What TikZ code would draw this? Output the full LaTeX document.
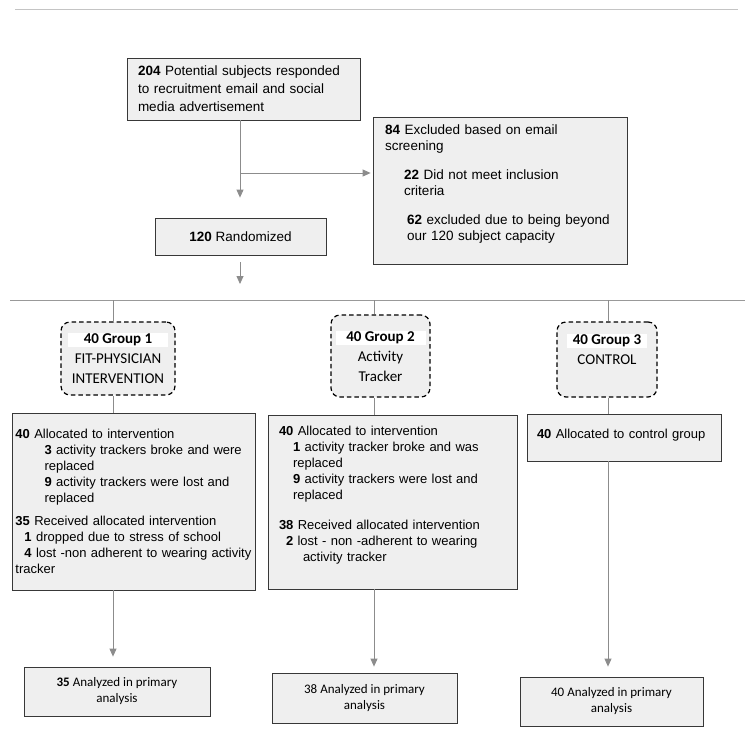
\documentclass[tikz,border=0pt]{standalone}
\usepackage{fontspec}
\setmainfont{Liberation Sans}
\newfontfamily\narrowfont{Carlito}
\usetikzlibrary{arrows.meta}
\definecolor{boxfill}{HTML}{EFEFEF}
\definecolor{boxline}{HTML}{383838}
\definecolor{linkgray}{HTML}{8C8C8C}
\definecolor{rulegray}{HTML}{C4C4C4}
\setlength{\fboxsep}{1pt}
\tikzset{>={Triangle[width=7pt,length=8pt]},auto}
\tikzset{
  box/.style={draw=boxline,fill=boxfill,line width=0.8pt,inner ysep=0pt},
  big/.style={font=\fontsize{13.5}{16}\selectfont},
  mid/.style={font=\fontsize{13}{16}\selectfont},
  narrow/.style={font=\narrowfont\fontsize{13}{16}\selectfont,align=center},
  grp/.style={draw=black,dash pattern=on 4.5pt off 3pt,rounded corners=9pt,fill=boxfill,
    line width=1.2pt,inner sep=0pt,align=center,font=\narrowfont\fontsize{15}{20}\selectfont},
  link/.style={color=linkgray,line width=0.8pt}
}
\newcommand{\grptitle}[2]{\colorbox{white}{\makebox[#1]{\bfseries #2}}}

\begin{document}
\begin{tikzpicture}[x=1pt,y=-1pt]
\useasboundingbox (0,0) rectangle (753,732);
\coordinate (tl) at (15,9);
\coordinate (tr) at (738,9);
\draw[rulegray,line width=0.8pt] (tl) -- (tr);

\node[box,big,minimum width=233pt,minimum height=62pt,inner xsep=11pt,text width=211pt,align=left,
  font=\fontsize{13.5}{18}\selectfont] (n204) at (243.5,89)
  {\textbf{204} Potential subjects responded\\to recruitment email and social\\media advertisement};
\node[box,big,minimum width=254pt,minimum height=147pt,inner xsep=12pt,text width=230pt,align=left] (n84) at (500,190.5)
  {\textbf{84} Excluded based on email\\screening\\[13pt]
   \hspace*{19pt}\textbf{22} Did not meet inclusion\\\hspace*{19pt}criteria\\[13pt]
   \hspace*{22pt}\textbf{62} excluded due to being beyond\\\hspace*{22pt}our 120 subject capacity\\\mbox{}};
\node[box,big,minimum width=171pt,minimum height=37pt,align=center] (rand) at (240.5,236.5)
  {\textbf{120} Randomized};

\node[grp,minimum width=114pt,minimum height=73pt] (g1) at (118,358.5)
  {\grptitle{98pt}{40 Group 1}\\FIT-PHYSICIAN\\INTERVENTION};
\node[grp,minimum width=99pt,minimum height=82pt] (g2) at (380.5,356)
  {\grptitle{88pt}{40 Group 2}\\Activity\\Tracker};
\node[grp,minimum width=100pt,minimum height=75pt] (g3) at (607,359.5)
  {\grptitle{78pt}{40 Group 3}\\CONTROL\\\mbox{}};

\node[box,mid,minimum width=243pt,minimum height=177pt,inner xsep=3.5pt,text width=236pt,align=left] (a1) at (133.5,501.5)
  {\textbf{40} Allocated to intervention\\
   \hspace*{29pt}\textbf{3} activity trackers broke and were\\
   \hspace*{29pt}replaced\\
   \hspace*{29pt}\textbf{9} activity trackers were lost and\\
   \hspace*{29pt}replaced\\[7pt]
   \textbf{35} Received allocated intervention\\
   \hspace*{9pt}\textbf{1} dropped due to stress of school\\
   \hspace*{9pt}\textbf{4} lost -non adherent to wearing activity\\
   tracker};
\node[box,mid,minimum width=249pt,minimum height=174pt,inner xsep=11pt,text width=227pt,align=left] (a2) at (392.5,502)
  {\textbf{40} Allocated to intervention\\
   \hspace*{14pt}\textbf{1} activity tracker broke and was\\
   \hspace*{14pt}replaced\\
   \hspace*{14pt}\textbf{9} activity trackers were lost and\\
   \hspace*{14pt}replaced\\[14pt]
   \textbf{38} Received allocated intervention\\
   \hspace*{7pt}\textbf{2} lost - non -adherent to wearing\\
   \hspace*{24pt}activity tracker\\\mbox{}};
\node[box,mid,minimum width=194pt,minimum height=47pt,inner xsep=10pt,text width=174pt,align=left] (a3) at (624,437.5)
  {\textbf{40} Allocated to control group\\[-8pt]\mbox{}};

\node[box,narrow,minimum width=186pt,minimum height=49pt] (r1) at (117,691.5)
  {\textbf{35} Analyzed in primary\\analysis};
\node[box,narrow,minimum width=185pt,minimum height=50pt] (r2) at (364.5,698)
  {38 Analyzed in primary\\analysis};
\node[box,narrow,minimum width=183pt,minimum height=49pt] (r3) at (611.5,701.5)
  {40 Analyzed in primary\\analysis};

\coordinate (s0) at (240,173);
\coordinate (b0) at (240,284);
\path[link,->]
  (n204.south -| s0) edge[shorten >=20pt] (s0 |- rand.north)
  (s0) edge[shorten >=2pt] (s0 -| n84.west)
  (rand.south -| b0) edge[shorten <=7pt] (b0);

\coordinate (hl) at (10,300);
\coordinate (hr) at (745,300);
\draw[link,color=black!40] (hl) -- (hr);
\coordinate (v1) at (113,300);
\coordinate (v2) at (374,300);
\coordinate (v3) at (608,300);
\foreach \i/\s in {1/10pt,2/6pt,3/10pt}{
  \draw[link] (v\i) -- (v\i |- g\i.north) (g\i.south -| v\i) -- (v\i |- a\i.north);
  \draw[link,->,shorten >=\s] (a\i.south -| v\i) -- (v\i |- r\i.north);
}
\end{tikzpicture}
\end{document}
